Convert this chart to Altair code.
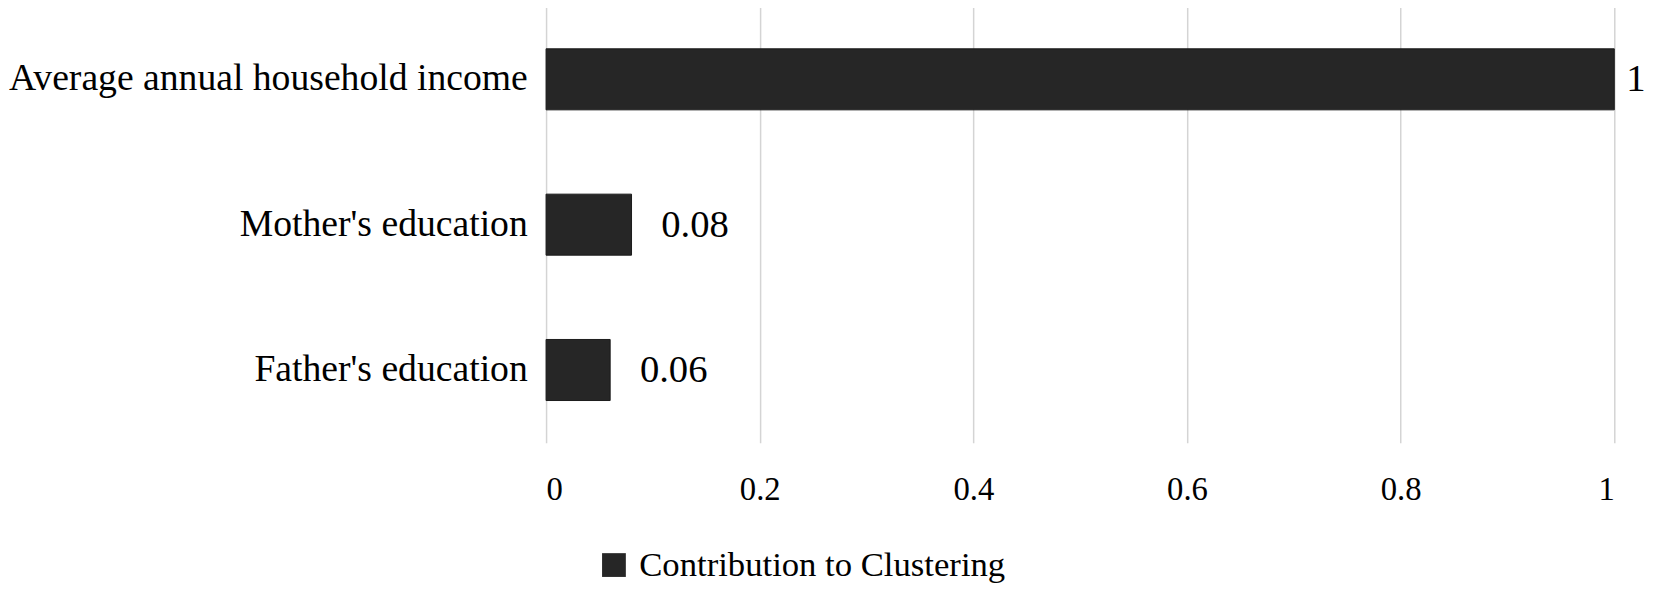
import altair as alt
import pandas as pd

categories = ["Average annual household income", "Mother's education", "Father's education"]
values = [1.0, 0.08, 0.06]
series = "Contribution to Clustering"
x_ticks = [0, 0.2, 0.4, 0.6, 0.8, 1]

df = pd.DataFrame({"feature": categories, "value": values, "series": [series] * len(categories)})

FONT = "Liberation Serif"
BAR = "#262626"

y_enc = alt.Y("feature:N", sort=categories, title=None,
              scale=alt.Scale(paddingInner=0.58, paddingOuter=0.29),
              axis=alt.Axis(labelFont=FONT, labelFontSize=38, labelColor="black",
                            labelPadding=19, labelLimit=0, ticks=False, domain=False, grid=False))
x_enc = alt.X("value:Q", title=None, scale=alt.Scale(domain=[0, 1], nice=False),
              axis=alt.Axis(values=x_ticks, format="~g", labelFont=FONT, labelFontSize=33,
                            labelColor="black", labelPadding=31, ticks=False, domain=False,
                            grid=True, gridColor="#d4d4d4", gridWidth=1.5))

bars = alt.Chart(df).mark_bar(stroke="#1a1a1a", strokeWidth=1).encode(
    y=y_enc, x=x_enc,
    color=alt.Color("series:N", title=None,
                    scale=alt.Scale(domain=[series], range=[BAR]),
                    legend=alt.Legend(orient="none", legendX=51, legendY=546, direction="horizontal",
                                      symbolType="square", symbolSize=576, symbolStrokeWidth=0,
                                      labelFont=FONT, labelFontSize=35, labelColor="black",
                                      labelOffset=8, labelLimit=0)),
)

labels_small = alt.Chart(df).transform_filter("datum.value < 1").mark_text(
    align="left", baseline="middle", dx=30, font=FONT, fontSize=39, color="black"
).encode(y=alt.Y("feature:N", sort=categories), x="value:Q", text=alt.Text("value:Q", format="~g"))

labels_full = alt.Chart(df).transform_filter("datum.value >= 1").mark_text(
    align="left", baseline="middle", dx=12, font=FONT, fontSize=39, color="black"
).encode(y=alt.Y("feature:N", sort=categories), x="value:Q", text=alt.Text("value:Q", format="~g"))

chart = alt.layer(bars, labels_small, labels_full).properties(
    width=1078, height=440,
    padding={"top": -4, "left": 0, "right": 0, "bottom": 0},
).configure(background="white").configure_view(stroke=None)

chart.save("out.html", embed_options={"renderer": "svg", "actions": False})
